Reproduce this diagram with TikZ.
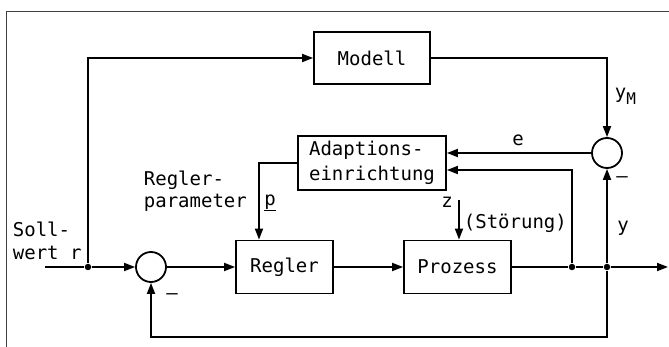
\documentclass[tikz,border=0pt]{standalone}
\usepackage{fontspec}
\setmainfont{DejaVu Sans Mono}
\usetikzlibrary{arrows.meta}
\begin{document}
\begin{tikzpicture}[x=1pt,y=-1pt,line width=1.8pt,
  >={Triangle[length=11pt,width=8pt]},
  blk/.style={draw,inner sep=0pt,font=\fontsize{19}{25}\selectfont},
  sumc/.style={draw,circle,minimum size=30pt,inner sep=0pt},
  lbl/.style={font=\fontsize{19}{23}\selectfont,inner sep=0pt},
  dot/.style={circle,fill,inner sep=0pt,minimum size=6.5pt}]
\useasboundingbox (0,0) rectangle (669,347);
\draw[line width=1pt,black!75] (6,347) -- (6,12) -- (669,12);
% blocks
\node[blk,minimum width=116pt,minimum height=52pt] (modell) at (372,58) {Modell};
\node[blk,minimum width=148pt,minimum height=54pt,align=left] (adapt) at (372,163) {Adaptions-\\einrichtung};
\node[blk,minimum width=97pt,minimum height=53pt] (regler) at (284.5,267) {Regler};
\node[blk,minimum width=107pt,minimum height=53pt] (prozess) at (457.5,267) {Prozess};
\node[sumc] (s1) at (151,267) {};
\node[sumc] (s2) at (607,153) {};
% points
\coordinate (in) at (45,267);
\node[dot] (jr) at (88,267) {};
\node[dot] (j1) at (572,267) {};
\node[dot] (j2) at (607,267) {};
\coordinate (out) at (668,267);
\coordinate (fb) at (607,337);
\coordinate (h2) at (0,170);
\coordinate (pc) at (259,0);
\coordinate (zt) at (459,200);
% connectors
\draw (in) -- (jr);
\draw[->] (jr) -- (s1);
\draw[->] (jr) |- (modell);
\draw[->] (modell) -| (s2);
\draw[->] (s1) -- (regler);
\draw[->] (regler) -- (prozess);
\draw (prozess) -- (j1) -- (j2);
\draw[->] (j2) -- (out);
\draw[->] (j2) -- (s2);
\draw[->] (j2) -- (fb) -| (s1);
\draw[->] (s2) -- (adapt.east |- s2);
\draw[->] (j1) |- (adapt.east |- h2);
\draw[->] (adapt.west) -| (regler.north -| pc);
\draw[->] (zt) -- (prozess.north -| zt);
% labels
\node[lbl,anchor=west] (l1) at (12,229) {Soll-};
\node[lbl,anchor=west] (l2) at (12,253) {wert r};
\node[lbl,anchor=west] (l3) at (143,180) {Regler-};
\node[lbl,anchor=west] (l4) at (143,203) {parameter};
\node[lbl] (lp) at (270,203) {\underline{p}};
\node[lbl] (le) at (518,140) {e};
\node[lbl,anchor=west] (lym) at (614,96) {y\raisebox{-6pt}{\fontsize{16}{16}\selectfont M}};
\node[lbl] (ly) at (623,228) {y};
\node[lbl] (lz) at (447,202) {z};
\node[lbl,anchor=west] (ls) at (463,223) {(Störung)};
\node[lbl] (m1) at (172,297) {\textendash};
\node[lbl] (m2) at (622,180) {\textendash};
\end{tikzpicture}
\end{document}
